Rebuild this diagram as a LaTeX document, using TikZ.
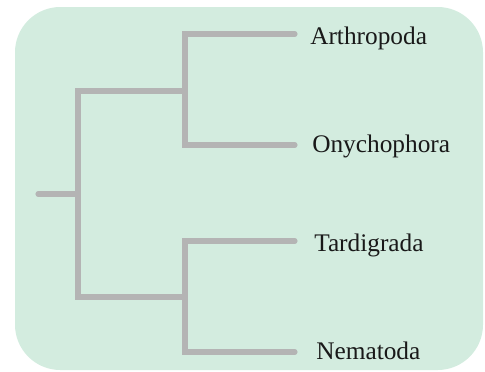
\documentclass[tikz,border=0pt]{standalone}
\usepackage{fontspec}
\setmainfont{Liberation Serif}
\usepackage{tikz}
\usetikzlibrary{positioning}
\definecolor{mintbg}{RGB}{211,236,223}
\definecolor{branchgray}{RGB}{180,180,180}

\begin{document}
\begin{tikzpicture}[x=0.75pt,y=-0.75pt]
\tikzstyle{branch}=[draw=branchgray,line width=3.8pt,line cap=round,line join=miter]
\tikzstyle{taxon}=[anchor=base west,inner sep=0pt,font=\fontsize{19}{22}\selectfont,text=black!90]
\useasboundingbox (0,0) rectangle (485,371);
\fill[mintbg,rounded corners=34pt] (15,7) rectangle (483,370);
% taxa
\node[taxon] (arth) at (310,44) {Arthropoda};
\node[taxon] (onych) at (312,152) {Onychophora};
\node[taxon] (tard) at (314,251) {Tardigrada};
\node[taxon] (nema) at (316,359) {Nematoda};
% tips and forks
\coordinate (tA) at (295,34); \coordinate (tO) at (295,145);
\coordinate (tT) at (295,241); \coordinate (tN) at (295,352);
\coordinate (up) at (185,91); \coordinate (lo) at (185,297);
\coordinate (base) at (78,194); \coordinate (stub) at (38,194);
% tree
\draw[branch] (tA) -| (up) |- (tO);
\draw[branch] (tT) -| (lo) |- (tN);
\draw[branch] (up) -| (base) |- (lo);
\draw[branch] (stub) -- (base);
\end{tikzpicture}
\end{document}
